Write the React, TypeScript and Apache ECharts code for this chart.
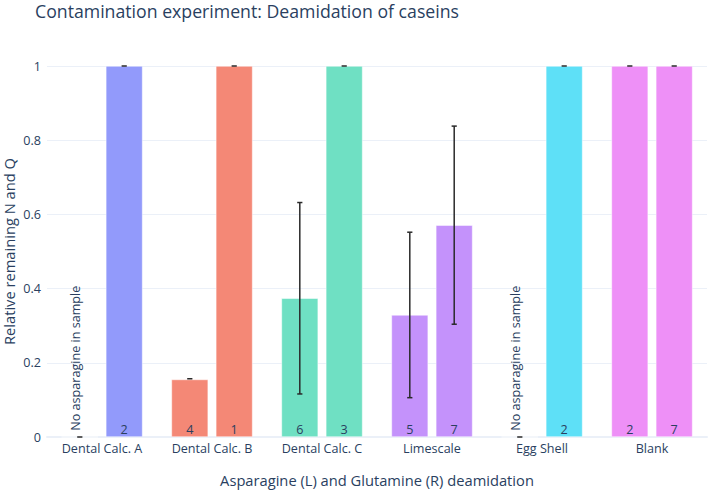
import React, { useEffect, useRef } from "react";
import * as echarts from "echarts";

const categories = ["Dental Calc. A", "Dental Calc. B", "Dental Calc. C", "Limescale", "Egg Shell", "Blank"];
const asnValues = [0, 0.155, 0.374, 0.329, 0, 1];
const asnErrors = [0, 0.002, 0.258, 0.223, 0, 0];
const glnValues = [1, 1, 1, 0.571, 1, 1];
const glnErrors = [0, 0, 0, 0.267, 0, 0];
const asnCounts = [null, 4, 6, 5, null, 2];
const glnCounts = [2, 1, 3, 7, 2, 7];
const barColors = ["#929AFB", "#F48876", "#6FE0C3", "#C492FB", "#5EE0F7", "#EE90F7"];
const noAsnText = "No asparagine in sample";
const yTicks = [0, 0.2, 0.4, 0.6, 0.8, 1];

const TEXT = "#2a3f5f";
const FONT = "Open Sans";
const BAR_W = 36.7;
const BAR_GAP = 7.7;
const FS = 12.6;

export default function App() {
  const ref = useRef<HTMLDivElement>(null);
  useEffect(() => {
    if (!ref.current) return;
    const chart = echarts.init(ref.current, null, { renderer: "svg" });

    const countLabel = (c: number | null) => ({
      show: c !== null,
      formatter: c === null ? "" : String(c),
      position: "insideBottom",
      distance: 1,
      color: TEXT,
      fontSize: FS,
      fontFamily: FONT,
    });

    const asnData = asnValues.map((v, i) => {
      if (asnCounts[i] === null) {
        return {
          value: v,
          itemStyle: { color: barColors[i] },
          label: {
            show: true,
            formatter: noAsnText,
            position: "top",
            distance: 5,
            rotate: 90,
            align: "left",
            verticalAlign: "middle",
            offset: [1, -4],
            color: TEXT,
            fontSize: FS,
            fontFamily: FONT,
          },
        };
      }
      return { value: v, itemStyle: { color: barColors[i] }, label: countLabel(asnCounts[i]) };
    });
    const glnData = glnValues.map((v, i) => ({
      value: v,
      itemStyle: { color: barColors[i] },
      label: countLabel(glnCounts[i]),
    }));

    const errData: number[][] = [];
    asnValues.forEach((v, i) => errData.push([i, v, asnErrors[i], -1]));
    glnValues.forEach((v, i) => errData.push([i, v, glnErrors[i], 1]));

    const off = (BAR_W + BAR_GAP) / 2;

    chart.setOption({
      animation: false,
      backgroundColor: "#ffffff",
      textStyle: { fontFamily: FONT },
      title: {
        text: "Contamination experiment: Deamidation of caseins",
        left: 35,
        top: 2,
        padding: 0,
        textStyle: { color: TEXT, fontSize: 17.7, fontWeight: "normal", fontFamily: FONT },
      },
      grid: { left: 47, right: 1, top: 66, bottom: 55, containLabel: false, outerBoundsMode: "none" },
      xAxis: {
        type: "category",
        data: categories,
        name: "Asparagine (L) and Glutamine (R) deamidation",
        nameLocation: "middle",
        nameGap: 35,
        nameMoveOverlap: false,
        nameTextStyle: { color: TEXT, fontSize: 14.7, fontFamily: FONT },
        axisTick: { show: false },
        axisLine: { show: true, lineStyle: { color: "#EBF0F8", width: 2 } },
        axisLabel: { color: TEXT, fontSize: FS, fontFamily: FONT, margin: 5 },
      },
      yAxis: {
        type: "value",
        min: yTicks[0],
        max: yTicks[yTicks.length - 1],
        interval: 0.2,
        name: "Relative remaining N and Q",
        nameLocation: "middle",
        nameGap: 31,
        nameMoveOverlap: false,
        nameTextStyle: { color: TEXT, fontSize: 14.7, fontFamily: FONT },
        axisLine: { show: false },
        axisTick: { show: false },
        axisLabel: { color: TEXT, fontSize: FS, fontFamily: FONT, margin: 6 },
        splitLine: { lineStyle: { color: "#EBF0F8", width: 1 } },
      },
      series: [
        {
          type: "bar",
          name: "Asparagine",
          data: asnData,
          barWidth: BAR_W,
          barGap: `${(BAR_GAP / BAR_W) * 100}%`,
          itemStyle: { borderColor: "#ffffff", borderWidth: 0.5 },
          z: 2,
        },
        {
          type: "bar",
          name: "Glutamine",
          data: glnData,
          barWidth: BAR_W,
          barGap: `${(BAR_GAP / BAR_W) * 100}%`,
          itemStyle: { borderColor: "#ffffff", borderWidth: 0.5 },
          z: 2,
        },
        {
          type: "custom",
          name: "errors",
          data: errData,
          z: 5,
          silent: true,
          renderItem: (params: any, api: any) => {
            const i = api.value(0);
            const v = api.value(1);
            const e = api.value(2);
            const side = api.value(3);
            const top = api.coord([i, v + e]);
            const bot = api.coord([i, v - e]);
            const x = top[0] + side * off;
            const hw = 2.6;
            const style = { stroke: "#2a2a2a", lineWidth: 1.5 };
            const children: any[] = [
              { type: "line", shape: { x1: x - hw, y1: top[1], x2: x + hw, y2: top[1] }, style },
            ];
            if (e > 0.005) {
              children.push({ type: "line", shape: { x1: x, y1: top[1], x2: x, y2: bot[1] }, style });
              children.push({ type: "line", shape: { x1: x - hw, y1: bot[1], x2: x + hw, y2: bot[1] }, style });
            }
            return { type: "group", children };
          },
        },
      ],
    });
    return () => chart.dispose();
  }, []);
  return <div ref={ref} style={{ position: "fixed", left: 0, top: 0, width: 708, height: 492 }} />;
}
